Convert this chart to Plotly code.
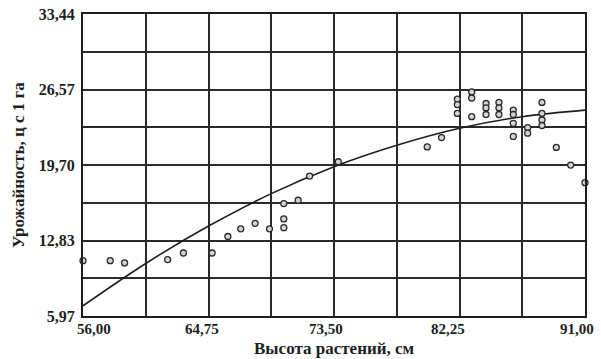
import plotly.graph_objects as go

# Plant height (cm) vs. yield (centner per ha) observations
height_cm = [56.0, 57.9, 58.9, 61.9, 63.0, 65.0, 66.1, 67.0, 68.0, 69.0,
             70.0, 70.0, 70.0, 71.0, 71.8, 73.8, 80.0, 81.0,
             82.1, 82.1, 82.1, 83.1, 83.1, 83.1,
             84.1, 84.1, 84.1, 85.0, 85.0, 85.0,
             86.0, 86.0, 86.0, 86.0, 87.0, 87.0,
             88.0, 88.0, 88.0, 88.0, 89.0, 90.0, 91.0]
yield_cph = [11.0, 11.0, 10.8, 11.1, 11.7, 11.7, 13.2, 13.9, 14.4, 13.9,
             16.2, 14.8, 14.0, 16.5, 18.7, 20.0, 21.35, 22.2,
             25.7, 25.2, 24.4, 26.35, 25.8, 24.1,
             25.3, 24.9, 24.3, 25.4, 24.9, 24.3,
             24.7, 24.3, 23.5, 22.3, 23.1, 22.6,
             25.4, 24.4, 23.8, 23.3, 21.3, 19.7, 18.1]

# Regression curve sampled at the grid positions
trend_x = [56.0, 60.375, 64.75, 69.125, 73.5, 77.875, 82.25, 86.625, 91.0]
trend_y = [6.9, 10.75, 14.15, 17.1, 19.55, 21.5, 23.05, 24.1, 24.7]

# Axis grid and labels
x_grid = [56.0, 60.375, 64.75, 69.125, 73.5, 77.875, 82.25, 86.625, 91.0]
x_labels = ["56,00", "", "64,75", "", "73,50", "", "82,25", "", "91,00"]
y_grid = [5.97, 9.40, 12.83, 16.27, 19.70, 23.14, 26.57, 30.01, 33.44]
y_labels = ["5,97", "", "12,83", "", "19,70", "", "26,57", "", "33,44"]
x_title = "Высота растений, см"
y_title = "Урожайность, ц с 1 га"

ink = "#1e1e1e"
serif = "Liberation Serif, Times New Roman, serif"


def bold(labels):
    return ["<b>%s</b>" % s if s else "" for s in labels]


fig = go.Figure()
fig.add_trace(go.Scatter(
    x=trend_x, y=trend_y, mode="lines",
    line=dict(color=ink, width=1.6, shape="spline", smoothing=1.0),
    hoverinfo="skip", showlegend=False))
fig.add_trace(go.Scatter(
    x=height_cm, y=yield_cph, mode="markers",
    marker=dict(symbol="circle", size=6, color="#d4d4d4",
                line=dict(color="#2a2a2a", width=1.3)),
    showlegend=False, cliponaxis=False))

axis_common = dict(
    tickmode="array", automargin=False,
    showgrid=True, gridcolor="#2b2b2b", gridwidth=1.6,
    showline=True, linecolor=ink, linewidth=2, mirror=True,
    ticks="", zeroline=False,
    tickfont=dict(family=serif, size=16, color=ink),
)

# x tick labels placed as annotations just under the axis, nudged so the
# first one sits inside the frame and the rest lean left of their grid line
label_nudge = [11, 0, -7, 0, -8, 0, -12, 0, -8]
x_tick_notes = [
    dict(text="<b>%s</b>" % lab, x=xv, xref="x", yref="paper", y=0,
         xanchor="center", yanchor="middle", yshift=-13, xshift=dx,
         showarrow=False, font=dict(family=serif, size=15, color=ink))
    for xv, lab, dx in zip(x_grid, x_labels, label_nudge) if lab
]

fig.update_layout(
    width=601, height=359,
    margin=dict(l=83, r=16, t=14, b=43),
    paper_bgcolor="white", plot_bgcolor="white",
    font=dict(family=serif, color=ink),
    xaxis=dict(range=[56.0, 91.0], tickvals=x_grid, showticklabels=False,
               **axis_common),
    yaxis=dict(range=[5.97, 33.44], tickvals=y_grid, ticktext=bold(y_labels),
               ticklabelstandoff=3, **axis_common),
    annotations=x_tick_notes + [
        dict(text="<b>%s</b>" % x_title, xref="paper", yref="paper",
             x=0.5, y=0, xanchor="center", yanchor="middle", yshift=-32,
             showarrow=False, font=dict(family=serif, size=17, color=ink)),
        dict(text="<b>%s</b>" % y_title, xref="paper", yref="paper",
             x=0, y=0.5, xanchor="center", yanchor="middle", xshift=-65,
             textangle=-90, showarrow=False,
             font=dict(family=serif, size=17, color=ink)),
    ],
)

fig.write_html("out.html")
